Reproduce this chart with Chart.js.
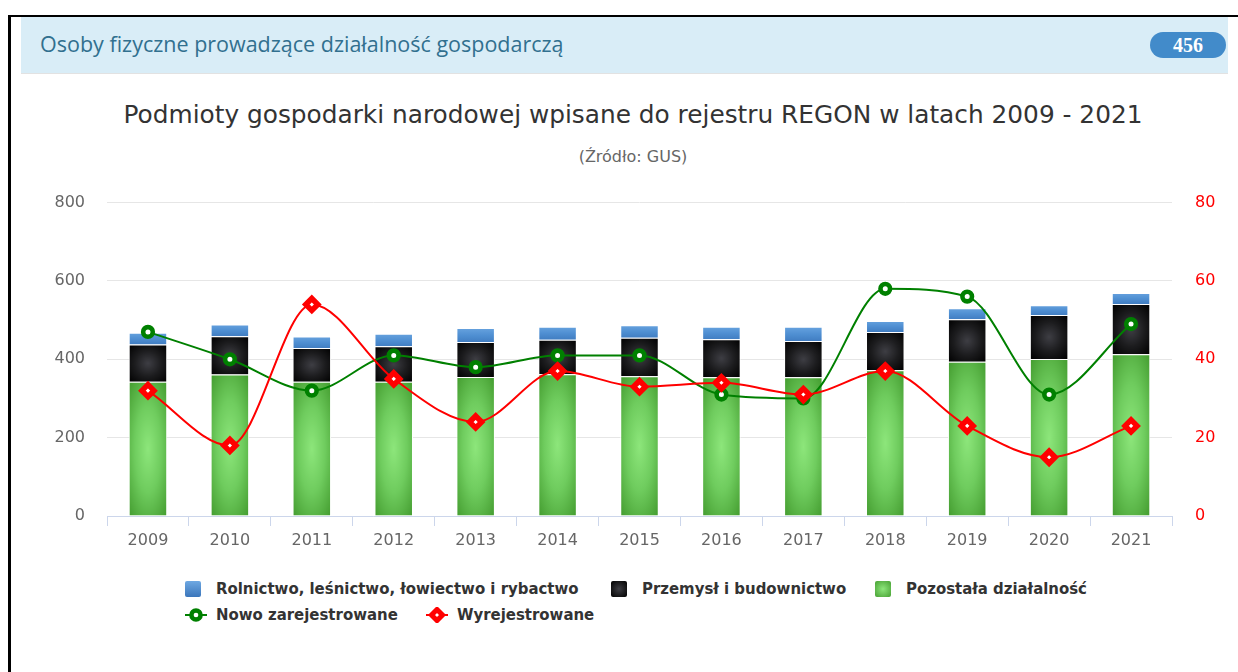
<!DOCTYPE html>
<html lang="pl">
<head>
<meta charset="utf-8">
<title>Podmioty gospodarki narodowej - REGON 2009-2021</title>
<script src="https://cdn.jsdelivr.net/npm/chart.js@4.4.1/dist/chart.umd.min.js"></script>
<style>
  html, body { margin: 0; padding: 0; background: #fff; }
  body { width: 1238px; height: 672px; position: relative; overflow: hidden; font-family: "DejaVu Sans", sans-serif; }
  .frame { position: absolute; left: 8px; top: 15px; width: 1300px; height: 700px;
           border-left: 3px solid #000; border-top: 2px solid #000; }
  .panel-head { position: absolute; left: 21px; top: 17px; width: 1207px; height: 56px;
                background: #d9edf7; border-bottom: 1px solid #e2e2e2; }
  .panel-head .txt { position: absolute; left: 19px; top: 12px; color: #31708f;
                     font: 21.5px "Open Sans", sans-serif; white-space: nowrap; }
  .badge { position: absolute; left: 1150px; top: 32px; width: 76px; height: 26px; border-radius: 13px;
           background: #428bca; color: #fff; font: bold 20px "Liberation Serif", serif;
           text-align: center; line-height: 26px; }
  .title { position: absolute; left: 0; width: 1266px; top: 100px; text-align: center;
           color: #333; font-size: 24.8px; white-space: nowrap; }
  .subtitle { position: absolute; left: 0; width: 1266px; top: 147px; text-align: center;
              color: #666; font-size: 16px; }
  .chart-box { position: absolute; left: 21px; top: 170px; width: 1207px; height: 386px; }
  .legend { position: absolute; left: 0; top: 0; }
  .legend .item { position: absolute; white-space: nowrap; font: bold 16.6px "DejaVu Sans Condensed", "Liberation Sans Narrow", "DejaVu Sans", sans-serif;
                  color: #333; line-height: 18px; }
  .legend .sym { position: absolute; top: 1px; }
</style>
</head>
<body>
<div class="frame"></div>
<div class="panel-head">
  <span class="txt">Osoby fizyczne prowadzące działalność gospodarczą</span>
</div>
<div class="badge">456</div>
<div class="title">Podmioty gospodarki narodowej wpisane do rejestru REGON w latach 2009 - 2021</div>
<div class="subtitle">(Źródło: GUS)</div>
<div class="chart-box"><canvas id="regonChart"></canvas></div>
<div class="legend" id="legend"></div>

<script>
// data
const years = ['2009', '2010', '2011', '2012', '2013', '2014', '2015', '2016', '2017', '2018', '2019', '2020', '2021'];
const pozostala = [343, 361, 343, 343, 355, 362, 357, 354, 354, 372, 394, 401, 413];
const przemysl = [95, 98, 86, 90, 89, 88, 98, 97, 93, 98, 108, 112, 128];
const rolnictwo = [30, 30, 29, 32, 36, 33, 32, 32, 36, 28, 28, 25, 28];
const nowoZarejestrowane = [47, 40, 32, 41, 38, 41, 41, 31, 30, 58, 56, 31, 49];
const wyrejestrowane = [32, 18, 54, 35, 24, 37, 33, 34, 31, 37, 23, 15, 23];
const leftTicks = [0, 200, 400, 600, 800];
const rightTicks = [0, 20, 40, 60, 80];

const BAR_PCT = 0.47;
const AXIS_FONT = { family: 'DejaVu Sans', size: 16 };

// per-bar fill: elliptical radial gradient (or vertical one) as a pattern placed on the bar
function segmentFill(stops, below, values, radial) {
    return (ctx) => {
        const chart = ctx.chart;
        if (ctx.type !== 'data' || !chart.chartArea) return stops[stops.length - 1];
        const xs = chart.scales.x, ys = chart.scales.y;
        const i = ctx.dataIndex;
        const w = Math.ceil((xs.getPixelForValue(1) - xs.getPixelForValue(0)) * BAR_PCT) + 4;
        const base = below.reduce((s, arr) => s + arr[i], 0);
        const top = ys.getPixelForValue(base + values[i]) - 2;
        const bottom = ys.getPixelForValue(base) + 2;
        const h = Math.max(4, Math.ceil(bottom - top));
        const off = document.createElement('canvas');
        off.width = w; off.height = h;
        const g = off.getContext('2d');
        let grad;
        if (radial) {
            g.scale(1, h / w);
            grad = g.createRadialGradient(w / 2, w / 2, 0, w / 2, w / 2, w * 0.62);
        } else {
            grad = g.createLinearGradient(0, 0, 0, h);
        }
        stops.forEach((c, k) => grad.addColorStop(k / (stops.length - 1), c));
        g.fillStyle = grad;
        g.fillRect(0, 0, w, radial ? w : h);
        const pat = chart.ctx.createPattern(off, 'no-repeat');
        pat.setTransform(new DOMMatrix([1, 0, 0, 1, xs.getPixelForValue(i) - w / 2, top]));
        return pat;
    };
}

const barCommon = {
    type: 'bar',
    yAxisID: 'y',
    stack: 'regon',
    order: 2,
    borderColor: 'rgba(255,255,255,0.95)',
    borderWidth: 1,
    barPercentage: BAR_PCT,
    categoryPercentage: 1
};

const lineCommon = {
    type: 'line',
    yAxisID: 'y1',
    borderWidth: 2,
    cubicInterpolationMode: 'monotone',
    pointBackgroundColor: '#ffffff'
};

const chart = new Chart(document.getElementById('regonChart'), {
    data: {
        labels: years,
        datasets: [
            {
                ...lineCommon,
                label: 'Wyrejestrowane',
                order: 0,
                data: wyrejestrowane,
                borderColor: '#ff0000',
                pointStyle: 'rectRot',
                pointRadius: 6,
                pointBorderWidth: 5.5,
                pointBorderColor: '#ff0000'
            },
            {
                ...lineCommon,
                label: 'Nowo zarejestrowane',
                order: 1,
                data: nowoZarejestrowane,
                borderColor: '#008000',
                pointStyle: 'circle',
                pointRadius: 4.8,
                pointBorderWidth: 4.6,
                pointBorderColor: '#008000'
            },
            {
                ...barCommon,
                label: 'Pozostała działalność',
                data: pozostala,
                backgroundColor: segmentFill(['#8de67b', '#6fcc5e', '#47a033'], [], pozostala, true)
            },
            {
                ...barCommon,
                label: 'Przemysł i budownictwo',
                data: przemysl,
                backgroundColor: segmentFill(['#3e3e44', '#1c1c1e', '#000000'], [pozostala], przemysl, true)
            },
            {
                ...barCommon,
                label: 'Rolnictwo, leśnictwo, łowiectwo i rybactwo',
                data: rolnictwo,
                backgroundColor: segmentFill(['#6ea8e2', '#4f8fd2', '#3b76bb'], [pozostala, przemysl], rolnictwo, false)
            }
        ]
    },
    options: {
        responsive: true,
        maintainAspectRatio: false,
        animation: false,
        layout: { padding: { top: 11, left: 0, right: 0, bottom: 0 } },
        plugins: {
            legend: { display: false },
            title: { display: false },
            tooltip: { enabled: true }
        },
        scales: {
            x: {
                stacked: true,
                offset: true,
                grid: { display: true, drawOnChartArea: false, offset: true, color: '#ccd6eb', tickLength: 10 },
                border: { display: true, color: '#ccd6eb' },
                ticks: { color: '#666', font: AXIS_FONT, padding: 5, maxRotation: 0 },
                afterFit: (s) => { s.height = 40; }
            },
            y: {
                position: 'left',
                stacked: true,
                min: 0,
                max: 800,
                afterBuildTicks: (s) => { s.ticks = leftTicks.map(v => ({ value: v })); },
                grid: { color: '#e6e6e6', drawTicks: false },
                border: { display: false },
                ticks: { color: '#666', font: AXIS_FONT, padding: 22 },
                afterFit: (s) => { s.width = 86; }
            },
            y1: {
                position: 'right',
                stacked: false,
                min: 0,
                max: 80,
                afterBuildTicks: (s) => { s.ticks = rightTicks.map(v => ({ value: v })); },
                grid: { drawOnChartArea: false, drawTicks: false },
                border: { display: false },
                ticks: { color: '#ff0000', font: AXIS_FONT, padding: 23 },
                afterFit: (s) => { s.width = 56; }
            }
        }
    }
});

// legend laid out like the original (two rows)
const legendItems = [
    { text: 'Rolnictwo, leśnictwo, łowiectwo i rybactwo', kind: 'box', fill: 'linear-gradient(#6ea8e2, #3b76bb)', x: 185, y: 580 },
    { text: 'Przemysł i budownictwo', kind: 'box', fill: 'radial-gradient(#3e3e44, #000)', x: 611, y: 580 },
    { text: 'Pozostała działalność', kind: 'box', fill: 'radial-gradient(#8de67b, #47a033)', x: 875, y: 580 },
    { text: 'Nowo zarejestrowane', kind: 'circle', color: '#008000', x: 185, y: 606 },
    { text: 'Wyrejestrowane', kind: 'diamond', color: '#ff0000', x: 426, y: 606 }
];
const legendEl = document.getElementById('legend');
legendItems.forEach(it => {
    const item = document.createElement('div');
    item.className = 'item';
    item.style.left = it.x + 'px';
    item.style.top = it.y + 'px';
    let sym;
    if (it.kind === 'box') {
        sym = `<span class="sym" style="left:0;width:16px;height:16px;border-radius:2px;background:${it.fill}"></span>`;
    } else if (it.kind === 'circle') {
        sym = `<svg class="sym" style="left:0" width="22" height="16"><line x1="0" y1="8" x2="22" y2="8" stroke="${it.color}" stroke-width="2"/>` +
              `<circle cx="11" cy="8" r="4.6" fill="#fff" stroke="${it.color}" stroke-width="4.5"/></svg>`;
    } else {
        sym = `<svg class="sym" style="left:0" width="22" height="16"><line x1="0" y1="8" x2="22" y2="8" stroke="${it.color}" stroke-width="2"/>` +
              `<path d="M11 2.5 L16.5 8 L11 13.5 L5.5 8 Z" fill="#fff" stroke="${it.color}" stroke-width="5"/></svg>`;
    }
    item.innerHTML = sym + `<span style="position:absolute;left:31px;top:0">${it.text}</span>`;
    legendEl.appendChild(item);
});
</script>
</body>
</html>
